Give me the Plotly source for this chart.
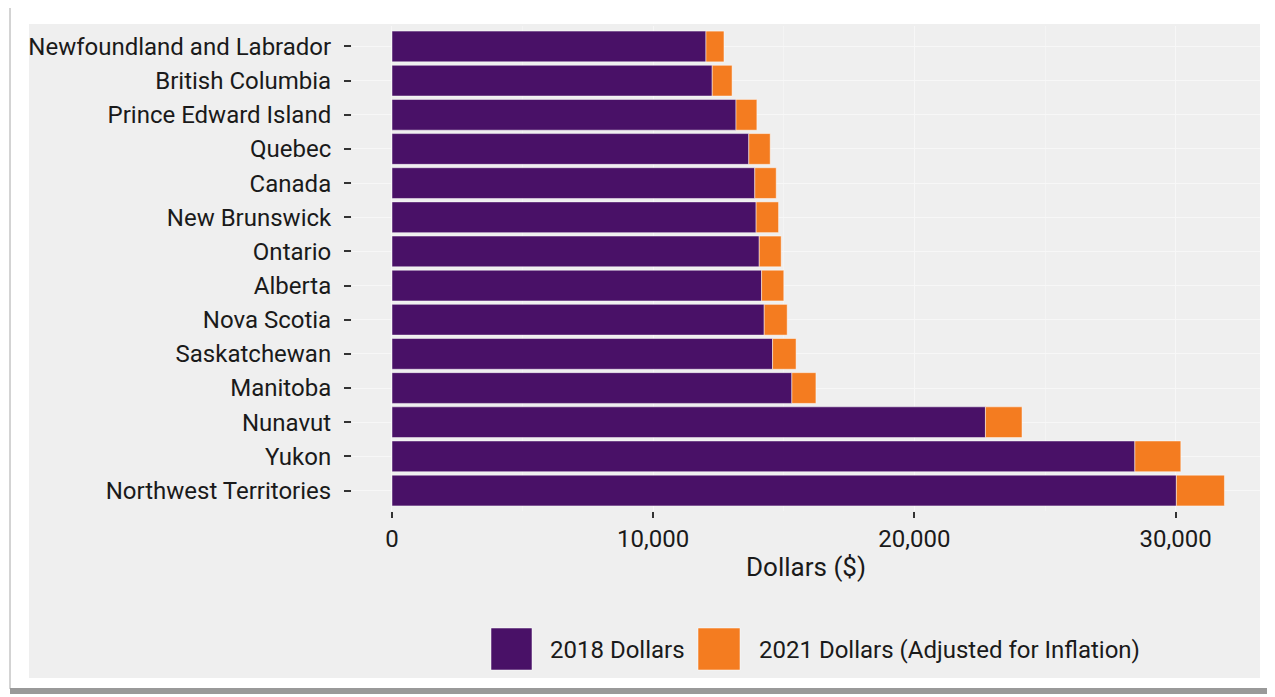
import plotly.graph_objects as go

# ---- data ----
regions = ["Newfoundland and Labrador", "British Columbia", "Prince Edward Island", "Quebec",
           "Canada", "New Brunswick", "Ontario", "Alberta", "Nova Scotia", "Saskatchewan",
           "Manitoba", "Nunavut", "Yukon", "Northwest Territories"]
dollars_2018 = [12020, 12260, 13170, 13660, 13890, 13940, 14060, 14150, 14250, 14570, 15310, 22720, 28440, 30030]
dollars_2021 = [12710, 13020, 13970, 14480, 14710, 14800, 14900, 15000, 15130, 15470, 16230, 24120, 30200, 31870]
series_names = ["2018 Dollars", "2021 Dollars (Adjusted for Inflation)"]
x_ticks = [0, 10000, 20000, 30000]
x_ticklabels = ["0", "10,000", "20,000", "30,000"]

PURPLE = "#491167"
ORANGE = "#F47C20"
BG = "#EFEFEF"
FONT = "Roboto"
TXT = "#1a1a1a"

OFF = 8  # page body margin offset
W, H = 1275 - OFF, 697 - OFF
# plot area in reference pixels
L, R, T, B = 352, 1260, 26, 511
l, r, t, b = L - OFF, R - OFF, T - OFF, B - OFF


def px(x):  # reference pixel -> paper
    return (x - OFF - l) / (r - l)


def py(y):
    return 1 - (y - OFF - t) / (b - t)


increase = [v1 - v0 for v0, v1 in zip(dollars_2018, dollars_2021)]

fig = go.Figure()
fig.add_trace(go.Bar(y=regions, x=dollars_2018, orientation="h", name=series_names[0],
                     marker=dict(color=PURPLE, line=dict(color="rgba(255,255,255,0.6)", width=0.8)),
                     showlegend=False))
fig.add_trace(go.Bar(y=regions, x=increase, base=dollars_2018, orientation="h", name=series_names[1],
                     marker=dict(color=ORANGE, line=dict(color="rgba(255,255,255,0.6)", width=0.8)),
                     showlegend=False))

shapes = [
    # outer frame
    dict(type="rect", xref="paper", yref="paper", x0=px(10), x1=px(1271), y0=py(689), y1=py(4),
         line=dict(color="#A8A8A8", width=1), fillcolor="white", layer="below"),
    # bottom shadow
    dict(type="rect", xref="paper", yref="paper", x0=px(10), x1=px(1273), y0=py(694), y1=py(688),
         line=dict(width=0), fillcolor="#999999", layer="below"),
    # grey panel
    dict(type="rect", xref="paper", yref="paper", x0=px(29), x1=px(1260), y0=py(678), y1=py(24),
         line=dict(width=0), fillcolor=BG, layer="below"),
]

annotations = []
# manual legend
leg_items = [(491, 532, 548, PURPLE, series_names[0]), (698, 740, 757, ORANGE, series_names[1])]
for x0, x1, tx, col, name in leg_items:
    shapes.append(dict(type="rect", xref="paper", yref="paper", x0=px(x0), x1=px(x1),
                       y0=py(670), y1=py(628), line=dict(color="rgba(255,255,255,0.5)", width=1),
                       fillcolor=col))
    annotations.append(dict(xref="paper", yref="paper", x=px(tx), y=py(650), text=name,
                            showarrow=False, xanchor="left", yanchor="middle",
                            font=dict(family=FONT, size=24, color=TXT)))

fig.update_layout(
    width=W, height=H,
    margin=dict(l=l, r=W - r, t=t, b=H - b, pad=0),
    paper_bgcolor="white", plot_bgcolor=BG,
    barmode="overlay", bargap=0.1,
    font=dict(family=FONT, size=24, color=TXT),
    shapes=shapes, annotations=annotations,
    xaxis=dict(range=[-1531, 33231], tickvals=x_ticks, ticktext=x_ticklabels,
               ticks="outside", ticklen=6, tickwidth=2, tickcolor="#333",
               showgrid=True, gridcolor="#F7F7F7", gridwidth=1, zeroline=False, showline=False,
               minor=dict(dtick=5000, tick0=0, showgrid=True, gridcolor="#F4F4F4", gridwidth=1),
               tickfont=dict(family=FONT, size=24, color=TXT),
               title=dict(text="Dollars ($)", standoff=6, font=dict(family=FONT, size=26, color=TXT))),
    yaxis=dict(categoryorder="array", categoryarray=regions, range=[13.6, -0.6],
               ticks="outside", ticklen=7, tickwidth=2, tickcolor="#333", ticklabelstandoff=8,
               showgrid=True, gridcolor="#F7F7F7", gridwidth=1, zeroline=False, showline=False,
               tickfont=dict(family=FONT, size=24, color=TXT)),
)

fig.write_html("out.html")
